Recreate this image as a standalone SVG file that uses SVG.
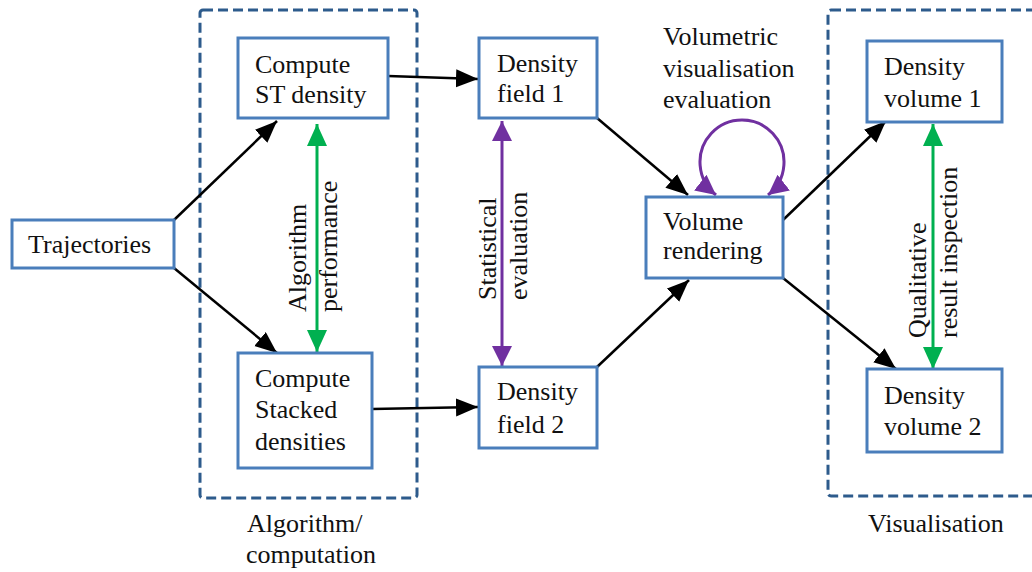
<svg xmlns="http://www.w3.org/2000/svg" width="1032" height="572" viewBox="0 0 1032 572" font-family="Liberation Serif, DejaVu Serif, serif">
<style>
  .box { fill: #ffffff; stroke: #4a7ebb; stroke-width: 3; }
  .group { fill: none; stroke: #2d5b8c; stroke-width: 3; stroke-dasharray: 10 5; }
  text { font-size: 26px; fill: #111; }
  .conn { stroke: #000; stroke-width: 2.5; fill: none; marker-end: url(#ah); }
  .green { stroke: #00b050; stroke-width: 3; fill: none; marker-start: url(#ahg); marker-end: url(#ahg); }
  .purple { stroke: #7030a0; stroke-width: 3; fill: none; marker-start: url(#ahp); marker-end: url(#ahp); }
</style>
<defs>
  <marker id="ah" markerUnits="userSpaceOnUse" markerWidth="24" markerHeight="20" refX="22" refY="9" orient="auto">
    <path d="M0,0 L22,9 L0,18 z" fill="#000"/>
  </marker>
  <marker id="ahg" markerUnits="userSpaceOnUse" markerWidth="24" markerHeight="22" refX="22" refY="10" orient="auto-start-reverse">
    <path d="M0,0 L22,10 L0,20 z" fill="#00b050"/>
  </marker>
  <marker id="ahp" markerUnits="userSpaceOnUse" markerWidth="24" markerHeight="22" refX="20" refY="10" orient="auto-start-reverse">
    <path d="M0,0 L20,10 L0,20 z" fill="#7030a0"/>
  </marker>
</defs>
<rect width="1032" height="572" fill="#ffffff"/>

<g id="group-algorithm">
  <rect class="group" x="200" y="10" width="217" height="488" rx="3"/>
  <text x="247" y="532" font-family="Liberation Serif, serif">Algorithm/</text>
  <text x="246" y="563" font-family="Liberation Serif, serif">computation</text>
</g>
<g id="group-visualisation">
  <rect class="group" x="828" y="10" width="230" height="486" rx="3"/>
  <text x="868" y="532">Visualisation</text>
</g>

<g id="connectors">
  <line class="conn" x1="174" y1="220" x2="277" y2="121"/>
  <line class="conn" x1="174" y1="268" x2="277" y2="353"/>
  <line class="conn" x1="388" y1="76" x2="478" y2="79"/>
  <line class="conn" x1="372" y1="409" x2="478" y2="407"/>
  <line class="conn" x1="597" y1="118" x2="688" y2="195"/>
  <line class="conn" x1="597" y1="367" x2="689" y2="280"/>
  <line class="conn" x1="783" y1="220" x2="886" y2="121"/>
  <line class="conn" x1="783" y1="278" x2="896" y2="369"/>
  <line class="green" x1="317" y1="124" x2="317" y2="352"/>
  <line class="green" x1="933" y1="124" x2="933" y2="369"/>
  <line class="purple" x1="502" y1="121" x2="502" y2="366"/>
  <path class="purple" d="M 716,195 A 42 42 0 1 1 768,195"/>
  <text transform="translate(306,312) rotate(-90)">Algorithm</text>
  <text transform="translate(337,312) rotate(-90)">performance</text>
  <text transform="translate(496,300) rotate(-90)">Statistical</text>
  <text transform="translate(527,300) rotate(-90)">evaluation</text>
  <text transform="translate(926,338) rotate(-90)">Qualitative</text>
  <text transform="translate(957,338) rotate(-90)">result inspection</text>
  <text x="663" y="45">Volumetric</text>
  <text x="663" y="77">visualisation</text>
  <text x="663" y="108">evaluation</text>
</g>

<g id="trajectories">
  <rect class="box" x="12" y="220" width="162" height="48"/>
  <text x="28" y="253">Trajectories</text>
</g>
<g id="compute-st">
  <rect class="box" x="238" y="38" width="150" height="80"/>
  <text x="255" y="73">Compute</text>
  <text x="255" y="103">ST density</text>
</g>
<g id="compute-stacked">
  <rect class="box" x="238" y="353" width="134" height="115"/>
  <text x="255" y="387">Compute</text>
  <text x="255" y="418">Stacked</text>
  <text x="255" y="450">densities</text>
</g>
<g id="density-field-1">
  <rect class="box" x="479" y="38" width="118" height="80"/>
  <text x="497" y="72">Density</text>
  <text x="497" y="102">field 1</text>
</g>
<g id="density-field-2">
  <rect class="box" x="479" y="367" width="118" height="81"/>
  <text x="497" y="400">Density</text>
  <text x="497" y="433">field 2</text>
</g>
<g id="volume-rendering">
  <rect class="box" x="646" y="197" width="137" height="81"/>
  <text x="663" y="230">Volume</text>
  <text x="663" y="259">rendering</text>
</g>
<g id="density-volume-1">
  <rect class="box" x="867" y="41" width="135" height="81"/>
  <text x="884" y="75">Density</text>
  <text x="884" y="107">volume 1</text>
</g>
<g id="density-volume-2">
  <rect class="box" x="867" y="369" width="135" height="83"/>
  <text x="884" y="404">Density</text>
  <text x="884" y="435">volume 2</text>
</g>
</svg>
